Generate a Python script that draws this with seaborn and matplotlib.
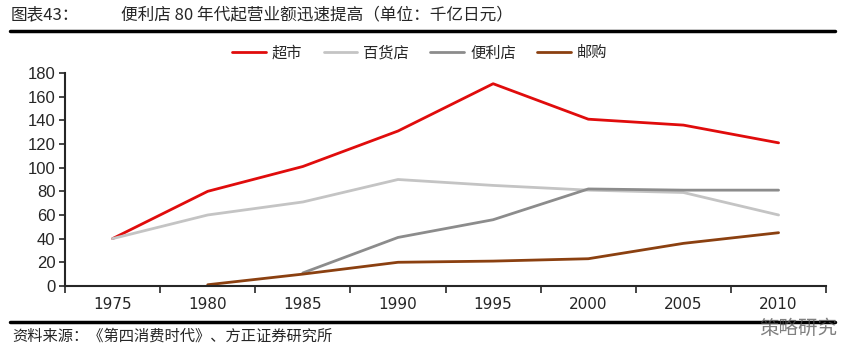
import numpy as np
import pandas as pd
import matplotlib
matplotlib.use("Agg")
import matplotlib.pyplot as plt
import seaborn as sns

years = ["1975", "1980", "1985", "1990", "1995", "2000", "2005", "2010"]
supermarket = [40, 80, 101, 131, 171, 141, 136, 121]
department = [40, 60, 71, 90, 85, 81, 79, 60]
convenience = [np.nan, np.nan, 11, 41, 56, 82, 81, 81]
mail_order = [np.nan, 1, 10, 20, 21, 23, 36, 45]

series_names = ["超市", "百货店", "便利店", "邮购"]
colors = ["#E00C0C", "#C4C4C4", "#8C8C8C", "#8B4010"]

sns.set_style("ticks")
cjk = ["Noto Sans CJK SC", "DejaVu Sans"]
plt.rcParams["font.family"] = cjk

df = pd.DataFrame({
    "x": list(range(len(years))) * 4,
    "value": supermarket + department + convenience + mail_order,
    "series": sum([[n] * len(years) for n in series_names], []),
})

fig = plt.figure(figsize=(8.63, 3.53), dpi=100)
ax = fig.add_axes([0.0753, 0.19, 0.882, 0.603])

sns.lineplot(data=df, x="x", y="value", hue="series", palette=colors,
             hue_order=series_names, linewidth=2, ax=ax, legend=True)

ax.set_xlim(-0.5, len(years) - 0.5)
ax.set_ylim(0, 180)
ax.set_yticks(range(0, 181, 20))
ax.set_xticks(np.arange(-0.5, len(years), 1.0))
ax.set_xticklabels([])
ax.set_xticks(range(len(years)), minor=True)
ax.set_xticklabels(years, minor=True, family=["Liberation Sans Narrow", "DejaVu Sans"], fontsize=11)
ax.tick_params(axis="x", which="minor", length=0, pad=8)
ax.tick_params(axis="x", which="major", length=5, width=1.2, direction="out")
ax.tick_params(axis="y", length=4, width=1.2, labelsize=12, pad=3)
for lbl in ax.get_yticklabels():
    lbl.set_family(["Liberation Sans", "DejaVu Sans"])
for side in ["top", "right"]:
    ax.spines[side].set_visible(False)
ax.spines["left"].set_linewidth(1.5)
ax.spines["bottom"].set_linewidth(1.5)
ax.set_xlabel("")
ax.set_ylabel("")

ax.legend(loc="center", bbox_to_anchor=(0.466, 1.095), ncol=4, frameon=False,
          fontsize=11, handlelength=2.2, columnspacing=1.4, handletextpad=0.4)

fig.text(0.012, 0.945, "图表43：", fontsize=12)
fig.text(0.14, 0.945, "便利店 80 年代起营业额迅速提高（单位：千亿日元）", fontsize=12)
fig.add_artist(plt.Line2D([0.012, 0.967], [0.913, 0.913], color="black", linewidth=2.5))
fig.add_artist(plt.Line2D([0.012, 0.967], [0.088, 0.088], color="black", linewidth=2.5))
fig.text(0.014, 0.035, "资料来源：《第四消费时代》、方正证券研究所", fontsize=11, style="italic")
fig.text(0.88, 0.055, "策略研究", fontsize=14, color="#555555", alpha=0.75)

fig.savefig("out.png", dpi=100)
